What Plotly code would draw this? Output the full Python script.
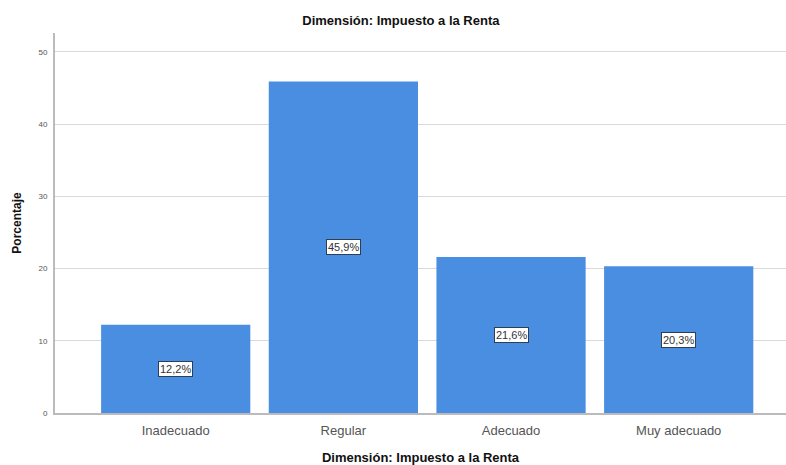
import plotly.graph_objects as go

categories = ["Inadecuado", "Regular", "Adecuado", "Muy adecuado"]
values = [12.2, 45.9, 21.6, 20.3]
labels = ["12,2%", "45,9%", "21,6%", "20,3%"]
tick_vals = [0, 10, 20, 30, 40, 50]

FONT = "Liberation Sans, Arial"

fig = go.Figure()
fig.add_trace(go.Bar(
    x=categories, y=values, width=0.89,
    marker=dict(color="#4A8EE2", line=dict(width=0)),
    hoverinfo="skip",
))
for c, v, t in zip(categories, values, labels):
    fig.add_annotation(
        x=c, y=v / 2, text=t, showarrow=False,
        font=dict(family=FONT, size=11, color="#333333"),
        bgcolor="white", bordercolor="#2d3e55", borderwidth=1, borderpad=1,
    )

fig.update_layout(
    width=786, height=465,
    margin=dict(l=55, r=0, t=33, b=52),
    paper_bgcolor="white", plot_bgcolor="white",
    showlegend=False,
    title=dict(text="<b>Dimensión: Impuesto a la Renta</b>", x=0.51, xanchor="center",
               y=0.957, yanchor="middle",
               font=dict(family=FONT, size=13, color="#111111")),
    bargap=0.11,
)
fig.update_xaxes(
    range=[-0.72, 3.64], showgrid=False, showline=True, linecolor="#bbbbbb", linewidth=2,
    ticks="", ticklabelstandoff=4,
    tickfont=dict(family=FONT, size=13, color="#555555"),
    title=dict(text="<b>Dimensión: Impuesto a la Renta</b>", standoff=16,
               font=dict(family=FONT, size=13, color="#111111")),
)
fig.update_yaxes(
    range=[0, 52.6], tickvals=tick_vals, showgrid=True, gridcolor="#d9d9d9", gridwidth=1,
    showline=True, linecolor="#bbbbbb", linewidth=2, zeroline=False,
    ticks="", ticklabelstandoff=4,
    tickfont=dict(family=FONT, size=8, color="#555555"),
    title=dict(text="<b>Porcentaje</b>", standoff=14,
               font=dict(family=FONT, size=12, color="#111111")),
)

fig.write_html("out.html")
